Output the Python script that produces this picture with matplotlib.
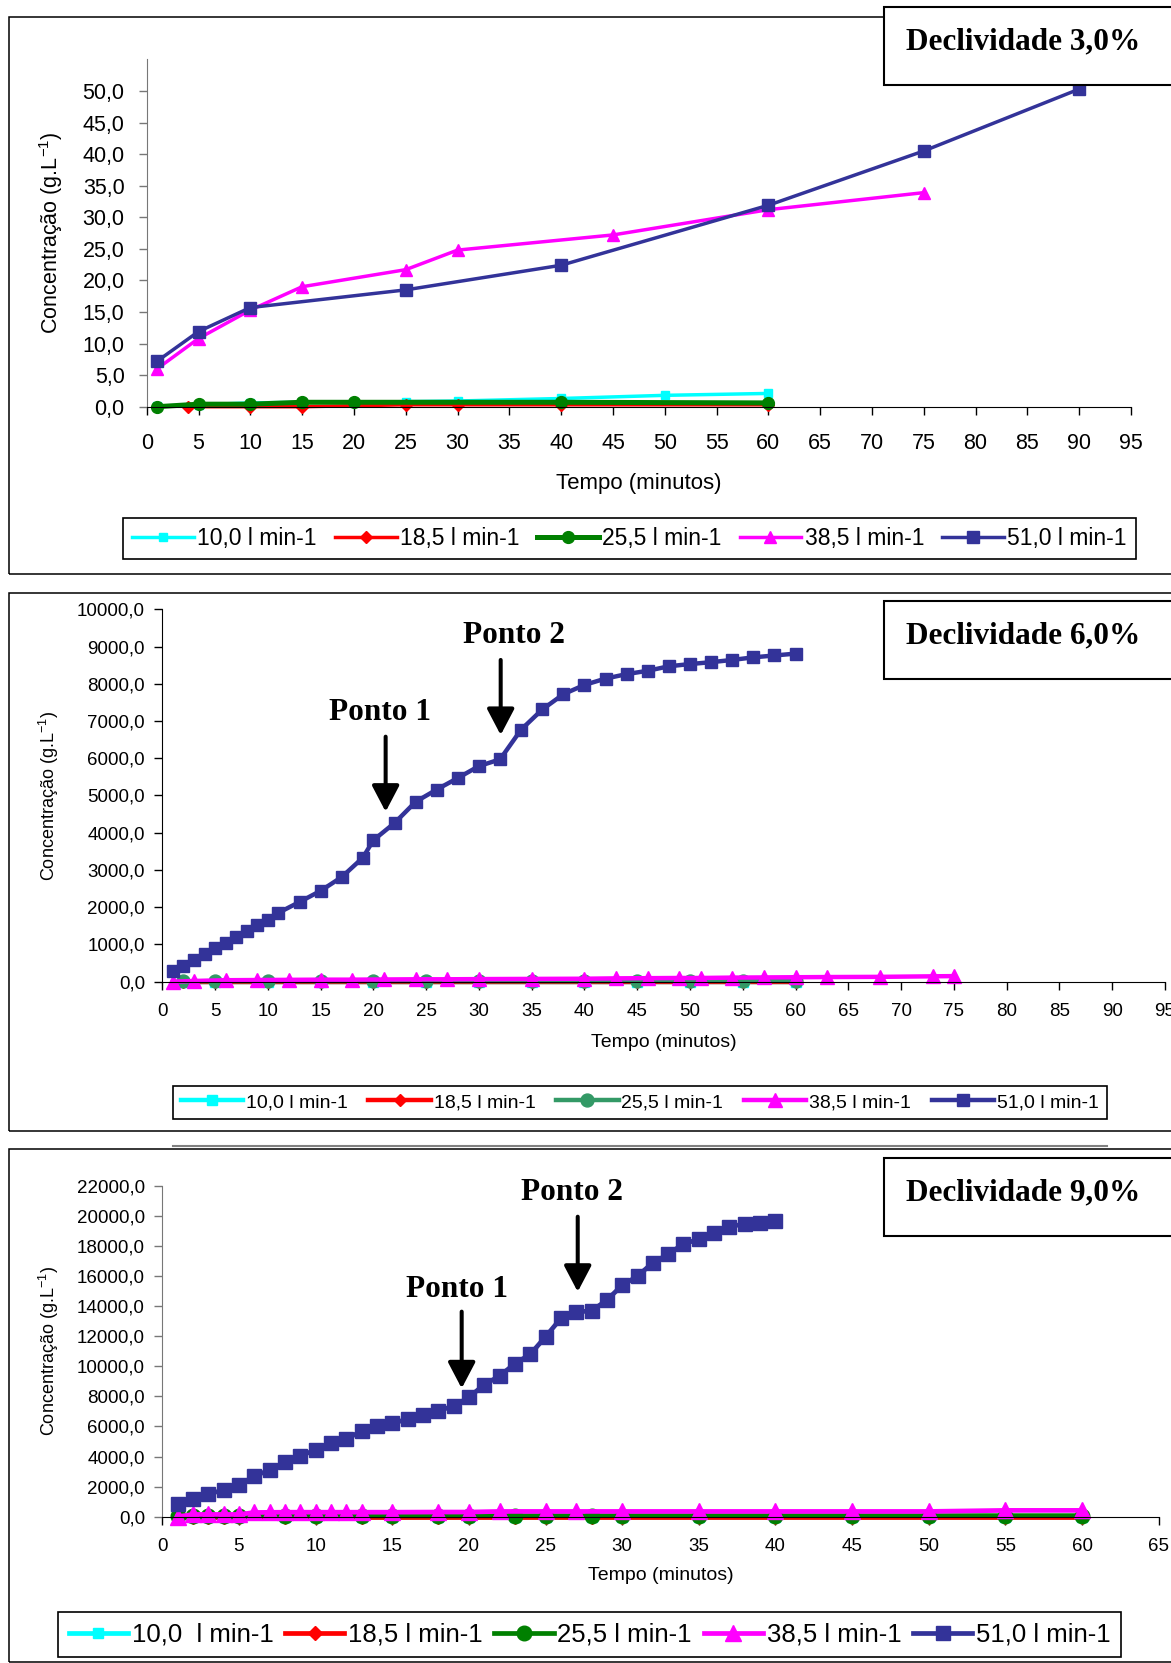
import matplotlib.pyplot as plt
from matplotlib.patches import Rectangle
from matplotlib.lines import Line2D

plt.rcParams['font.family'] = ['Liberation Sans', 'DejaVu Sans']
plt.rcParams['mathtext.fontset'] = 'custom'
plt.rcParams['mathtext.rm'] = 'Liberation Sans'
plt.rcParams['mathtext.it'] = 'Liberation Sans:italic'

W, H = 1171, 1663

# ---- Declividade 3,0% ----
t3_10 = [1, 5, 10, 15, 20, 25, 30, 40, 50, 60]
c3_10 = [0.1, 0.3, 0.6, 0.7, 0.7, 0.8, 0.9, 1.3, 1.8, 2.1]
t3_18 = [4, 10, 15, 25, 30, 40, 60]
c3_18 = [0.0, 0.0, 0.0, 0.3, 0.3, 0.3, 0.3]
t3_25 = [1, 5, 10, 15, 20, 40, 60]
c3_25 = [0.0, 0.4, 0.4, 0.7, 0.7, 0.7, 0.6]
t3_38 = [1, 5, 10, 15, 25, 30, 45, 60, 75]
c3_38 = [6.0, 10.8, 15.3, 19.0, 21.7, 24.8, 27.2, 31.2, 33.9]
t3_51 = [1, 5, 10, 25, 40, 60, 75, 90]
c3_51 = [7.2, 11.9, 15.7, 18.5, 22.4, 31.9, 40.5, 50.3]

# ---- Declividade 6,0% ----
t6_10 = [2, 5, 10, 15, 20, 25, 30, 35, 40, 45, 50, 55, 60]
c6_10 = [0, 0, 0, 0, 0, 0, 0, 0, 0, 0, 0, 0, 0]
t6_18 = [2, 5, 10, 15, 20, 25, 30, 35, 40, 45, 50, 55, 60]
c6_18 = [0, 0, 0, 0, 0, 0, 0, 0, 0, 0, 0, 0, 0]
t6_25 = [2, 5, 10, 15, 20, 25, 30, 35, 40, 45, 50, 55, 60]
c6_25 = [10, 15, 15, 15, 15, 15, 15, 15, 15, 20, 20, 20, 20]
t6_38 = [1, 3, 6, 9, 12, 15, 18, 21, 24, 27, 30, 35, 40, 43, 46, 49, 51, 54,
         57, 60, 63, 68, 73, 75]
c6_38 = [0, 20, 40, 45, 50, 55, 55, 60, 65, 65, 70, 75, 80, 90, 95, 100, 100,
         110, 115, 120, 125, 130, 145, 150]
t6_51 = [1, 2, 3, 4, 5, 6, 7, 8, 9, 10, 11, 13, 15, 17, 19, 20, 22, 24, 26, 28,
         30, 32, 34, 36, 38, 40, 42, 44, 46, 48, 50, 52, 54, 56, 58, 60]
c6_51 = [290, 430, 580, 740, 900, 1050, 1200, 1360, 1510, 1650, 1850, 2140,
         2440, 2810, 3330, 3800, 4260, 4830, 5160, 5470, 5790, 5970, 6770, 7310,
         7720, 7970, 8140, 8260, 8350, 8470, 8530, 8580, 8640, 8710, 8760, 8810]

# ---- Declividade 9,0% ----
t9_low = [1, 2, 3, 4, 5, 8, 10, 13, 15, 18, 20, 23, 25, 28, 30, 35, 40, 45,
          50, 55, 60]
c9_10 = [0, 0, 0, 0, 0, 0, 0, 0, 0, 0, 0, 0, 0, 0, 0, 0, 0, 0, 0, 0, 0]
c9_18 = [0, 0, 0, 0, 0, 0, 0, 0, 0, 0, 0, 0, 0, 0, 0, 0, 0, 0, 0, 0, 0]
c9_25 = [40, 60, 60, 60, 60, 60, 60, 60, 60, 60, 60, 70, 70, 70, 70, 70, 70,
         70, 70, 70, 70]
t9_38 = [1, 2, 3, 4, 5, 6, 7, 8, 9, 10, 11, 12, 13, 15, 18, 20, 22, 25, 27, 30,
         35, 40, 45, 50, 55, 60]
c9_38 = [0, 150, 150, 150, 150, 280, 290, 300, 300, 300, 300, 300, 300, 300,
         310, 310, 350, 350, 350, 350, 350, 350, 350, 350, 420, 420]
t9_51 = [1, 2, 3, 4, 5, 6, 7, 8, 9, 10, 11, 12, 13, 14, 15, 16, 17, 18, 19, 20,
         21, 22, 23, 24, 25, 26, 27, 28, 29, 30, 31, 32, 33, 34, 35, 36, 37, 38,
         39, 40]
c9_51 = [820, 1170, 1510, 1770, 2100, 2700, 3100, 3650, 4050, 4430, 4870, 5160,
         5690, 6020, 6200, 6490, 6760, 7040, 7350, 7930, 8780, 9350, 10170,
         10790, 11960, 13180, 13620, 13670, 14400, 15380, 15990, 16880, 17440,
         18140, 18430, 18830, 19270, 19470, 19540, 19650]

labels = ['10,0 l min-1', '18,5 l min-1', '25,5 l min-1', '38,5 l min-1',
          '51,0 l min-1']
labels9 = ['10,0  l min-1', '18,5 l min-1', '25,5 l min-1', '38,5 l min-1',
           '51,0 l min-1']


def fx(x):
    return x / W


def fy(y):
    return 1 - y / H


def box(x0, y0, x1, y1, lw, color='black', fill=False, z=1):
    fig.add_artist(Rectangle((fx(x0), fy(y1)), (x1 - x0) / W, (y1 - y0) / H,
                             transform=fig.transFigure, fill=fill,
                             facecolor='white', edgecolor=color, lw=lw,
                             zorder=z))


def make_axes(left, top, right, bottom):
    return fig.add_axes([fx(left), fy(bottom), (right - left) / W,
                         (bottom - top) / H])


def draw(ax, series, green, lws, ms):
    colors = ['#00FFFF', '#FF0000', green, '#FF00FF', '#333399']
    markers = ['s', 'D', 'o', '^', 's']
    scale = [0.75, 0.7, 1.0, 1.05, 1.0]
    for (x, y), c, m, s, lw in zip(series, colors, markers, scale, lws):
        ax.plot(x, y, color=c, marker=m, ms=ms * s, mec=c, mfc=c, lw=lw,
                clip_on=False)


def setup(ax, xmax, ymax, yticks, tfs, ylab_x, ylab_fs, xlab_y, xlab_fs,
          left_color, ypad, xpad):
    ax.set_xlim(0, xmax)
    ax.set_ylim(0, ymax)
    ax.set_xticks(range(0, xmax + 1, 5))
    ax.set_yticks(yticks)
    ax.set_yticklabels([f'{v:.1f}'.replace('.', ',') for v in yticks])
    for s in ['top', 'right']:
        ax.spines[s].set_visible(False)
    ax.spines['left'].set_color(left_color)
    ax.spines['bottom'].set_color('black')
    ax.tick_params(axis='y', direction='out', length=5.5, width=1,
                   labelsize=tfs, pad=ypad, color=left_color)
    ax.tick_params(axis='x', direction='out', length=5.5, width=1,
                   labelsize=tfs, pad=xpad)
    ax.set_ylabel('Concentração (g.L$^{-1}$)', fontsize=ylab_fs)
    ax.yaxis.set_label_coords(ylab_x, 0.5)
    ax.yaxis.label.set_va('center')
    ax.set_xlabel('Tempo (minutos)', fontsize=xlab_fs)
    ax.xaxis.set_label_coords(0.5, xlab_y)
    ax.xaxis.label.set_va('center')


def legend(ax, labs, x0, y0, x1, y1, fs, hl):
    ax.legend(ax.get_lines(), labs, ncol=5, mode='expand', loc='center',
              bbox_to_anchor=(fx(x0), fy(y1), (x1 - x0) / W, (y1 - y0) / H),
              bbox_transform=fig.transFigure, fontsize=fs, handlelength=hl,
              handletextpad=0.15, borderaxespad=0, fancybox=False,
              framealpha=1, edgecolor='black', numpoints=1)
    ax.get_legend().get_frame().set_linewidth(1.2)


def decl(text, top):
    box(883.5, top, 1185, top + 77.5, 1.5, fill=True, z=3)
    fig.text(fx(1023.6), fy(top + 42), text, ha='center', va='baseline',
             fontsize=22.5, fontweight='bold', family='Liberation Serif',
             zorder=4)


def ponto(ax, text, tx, ty, ax_x, y_from, y_to):
    ax.text(tx, ty, text, ha='center', va='baseline', fontsize=22.5,
            fontweight='bold', family='Liberation Serif')
    ax.annotate('', xy=(ax_x, y_to), xytext=(ax_x, y_from),
                arrowprops=dict(arrowstyle='-|>,head_length=0.8,head_width=0.42',
                                lw=2.9, color='black', shrinkA=0, shrinkB=0,
                                mutation_scale=20))


fig = plt.figure(figsize=(W / 100, H / 100), dpi=100)

# panel borders
box(8.5, 17, 1185, 574, 1.1)
box(8.5, 593, 1185, 1130.7, 1.1)
box(8.5, 1148.7, 1185, 1661.5, 1.1)
fig.add_artist(Line2D([fx(172.9), fx(1106.7)], [fy(1145.6), fy(1145.6)],
                      transform=fig.transFigure, color='#808080', lw=1.5))

# ---- panel 1 ----
ax1 = make_axes(146.7, 59.4, 1131, 406.7)
draw(ax1, [(t3_10, c3_10), (t3_18, c3_18), (t3_25, c3_25), (t3_38, c3_38),
           (t3_51, c3_51)], '#008000', [2.5, 2.5, 3.6, 2.5, 2.5], 8.5)
setup(ax1, 95, 55, list(range(0, 51, 5)), 15.5, -0.097, 15.5, -0.2215, 16,
      '#777777', 10.4, 13.4)
legend(ax1, labels, 123, 517.6, 1136, 559, 16.5, 2.7)
decl('Declividade 3,0%', 7.4)

# ---- panel 2 ----
ax2 = make_axes(162.3, 609.3, 1165, 981.7)
draw(ax2, [(t6_10, c6_10), (t6_18, c6_18), (t6_25, c6_25), (t6_38, c6_38),
           (t6_51, c6_51)], '#339966', [3.2] * 5, 9.3)
setup(ax2, 95, 10000, list(range(0, 10001, 1000)), 13.5, -0.113, 13, -0.164,
      14, 'black', 7, 10)
legend(ax2, labels, 172.9, 1084, 1106.7, 1121, 14, 3.2)
decl('Declividade 6,0%', 601.4)
ponto(ax2, 'Ponto 1', 20.6, 7030, 21.16, 6580, 4565)
ponto(ax2, 'Ponto 2', 33.3, 9090, 32.06, 8640, 6625)

# ---- panel 3 ----
ax3 = make_axes(162.3, 1185.7, 1158.7, 1516.7)
draw(ax3, [(t9_low, c9_10), (t9_low, c9_18), (t9_low, c9_25), (t9_38, c9_38),
           (t9_51, c9_51)], '#008000', [3.4] * 5, 10.5)
setup(ax3, 65, 22000, list(range(0, 22001, 2000)), 13.5, -0.114, 13, -0.179,
      14, '#777777', 7, 9.5)
legend(ax3, labels9, 58.3, 1614.4, 1121, 1654.7, 18.5, 2.3)
decl('Declividade 9,0%', 1158.3)
ponto(ax3, 'Ponto 1', 19.2, 14600, 19.53, 13630, 8530)
ponto(ax3, 'Ponto 2', 26.7, 21050, 27.1, 19940, 14950)

fig.savefig('out.png', dpi=100)
